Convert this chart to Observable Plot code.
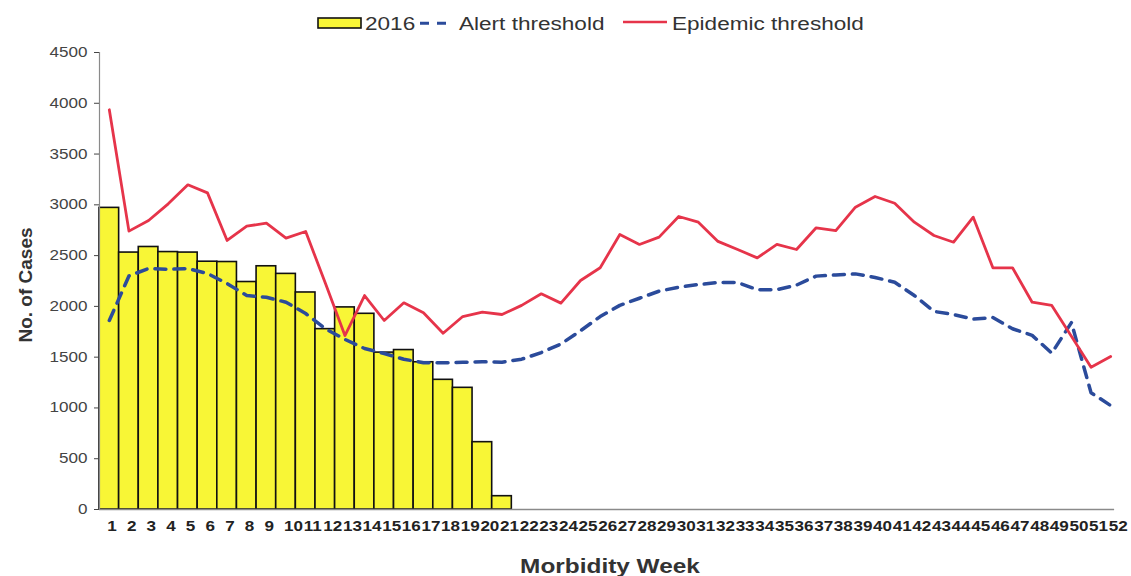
<!DOCTYPE html>
<html><head><meta charset="utf-8">
<script src="https://cdn.jsdelivr.net/npm/d3@7"></script>
<script src="https://cdn.jsdelivr.net/npm/@observablehq/plot@0.6"></script>
<style>
body{margin:0;background:#fff;}
#chart{width:1131px;height:576px;overflow:hidden;background:#fff;}
#chart svg{display:block;}
</style></head><body><div id="chart"></div>
<script>
const weeks = [1,2,3,4,5,6,7,8,9,10,11,12,13,14,15,16,17,18,19,20,21,22,23,24,25,26,27,28,29,30,31,32,33,34,35,36,37,38,39,40,41,42,43,44,45,46,47,48,49,50,51,52];
const cases2016 = [2970,2530,2585,2535,2530,2440,2437,2240,2395,2320,2137,1776,1990,1927,1545,1570,1450,1277,1198,663,131];
const alertThreshold = [1861,2300,2373,2365,2373,2324,2225,2107,2090,2041,1930,1780,1675,1585,1536,1480,1445,1444,1450,1455,1450,1480,1545,1630,1760,1900,2010,2080,2150,2189,2215,2235,2235,2165,2165,2210,2298,2310,2320,2285,2238,2107,1950,1920,1875,1890,1780,1715,1540,1840,1150,1024];
const epidemicThreshold = [3936,2741,2846,3010,3197,3118,2649,2790,2819,2672,2737,2230,1713,2107,1861,2035,1937,1736,1900,1943,1920,2010,2124,2032,2255,2380,2708,2610,2682,2885,2829,2640,2560,2478,2610,2560,2774,2747,2977,3082,3016,2829,2698,2632,2878,2380,2380,2041,2009,1706,1401,1506];
const yTicks = [0,500,1000,1500,2000,2500,3000,3500,4000,4500];
const seriesNames = ["2016","Alert threshold","Epidemic threshold"];
const xTitle = "Morbidity Week";
const yTitle = "No. of Cases";

const SX = 1.22;
const FONT = '"Liberation Sans", Arial, Helvetica, sans-serif';
const W = 1131, LEG_H = 40, H = 536;
const YELLOW = "#f8f636", RED = "#e6344a", BLUE = "#2b4b9b";

const barData = cases2016.map((v, i) => ({week: weeks[i], cases: v}));
const lineData = weeks.map((w, i) => ({week: w, alert: alertThreshold[i], epidemic: epidemicThreshold[i]}));

// Legend (above the plot)
const legend = d3.create("svg").attr("width", W).attr("height", LEG_H)
  .style("display", "block").style("font-family", FONT);
legend.append("rect").attr("x", 318).attr("y", 18).attr("width", 43).attr("height", 10)
  .attr("fill", YELLOW).attr("stroke", "#111").attr("stroke-width", 1.6);
legend.append("line").attr("x1", 420).attr("x2", 448).attr("y1", 23.3).attr("y2", 23.3)
  .attr("stroke", BLUE).attr("stroke-width", 3).attr("stroke-dasharray", "9,8");
legend.append("line").attr("x1", 623).attr("x2", 667).attr("y1", 22).attr("y2", 22)
  .attr("stroke", RED).attr("stroke-width", 2.6);
const legX = [365, 459, 672];
seriesNames.forEach((s, i) => {
  legend.append("text").attr("transform", `translate(${legX[i]},30) scale(${SX},1)`)
    .attr("font-size", 18.5).attr("fill", "#333").text(s);
});

const plot = Plot.plot({
  width: W, height: H,
  marginTop: 12, marginBottom: 67, marginLeft: 99, marginRight: 11,
  style: {fontFamily: FONT, background: "white", overflow: "visible"},
  x: {domain: [0.5, 52.5], axis: null},
  y: {domain: [0, 4500], axis: null},
  marks: [
    Plot.rect(barData, {x1: d => d.week - 0.5, x2: d => d.week + 0.5, y1: 0, y2: "cases", fill: YELLOW, stroke: "#111", strokeWidth: 1.6}),
    Plot.line(lineData, {x: "week", y: "alert", stroke: BLUE, strokeWidth: 3.5, strokeDasharray: "11,8"}),
    Plot.line(lineData, {x: "week", y: "epidemic", stroke: RED, strokeWidth: 2.8}),
    Plot.ruleX([0.5], {y1: 0, y2: 4500, stroke: "#8a8a8a", strokeWidth: 1.2}),
    Plot.ruleY([0], {x1: 0.5, x2: 52.2, stroke: "#8a8a8a", strokeWidth: 1.5}),
    Plot.axisY({ticks: yTicks, tickSize: 5, tickPadding: 7, fontSize: 14, color: "#444", tickFormat: d => String(d), label: null}),
    Plot.axisX({ticks: weeks, tickSize: 0, tickPadding: 12, fontSize: 14, fontWeight: "bold", textAnchor: "start", dx: -2, color: "#222", tickFormat: d => String(d), label: null}),
    Plot.text([xTitle], {text: d => d, frameAnchor: "bottom", lineAnchor: "middle", dy: 57, fontSize: 20, fontWeight: "bold", fill: "#333"}),
    Plot.text([yTitle], {text: d => d, frameAnchor: "left", textAnchor: "middle", dx: -74, dy: 4, rotate: -90, fontSize: 19, fontWeight: "bold", fill: "#333"})
  ]
});

// horizontal stretch of text to mimic the reference's wide lettering
plot.querySelectorAll("text").forEach(t => {
  const tr = t.getAttribute("transform") || "";
  if (tr.includes("rotate")) return;
  const x = parseFloat(t.getAttribute("x") || "0") || 0;
  t.setAttribute("transform", `${tr} translate(${x},0) scale(${SX},1) translate(${-x},0)`);
});

const chart = document.getElementById("chart");
chart.appendChild(legend.node());
chart.appendChild(plot);
</script></body></html>
